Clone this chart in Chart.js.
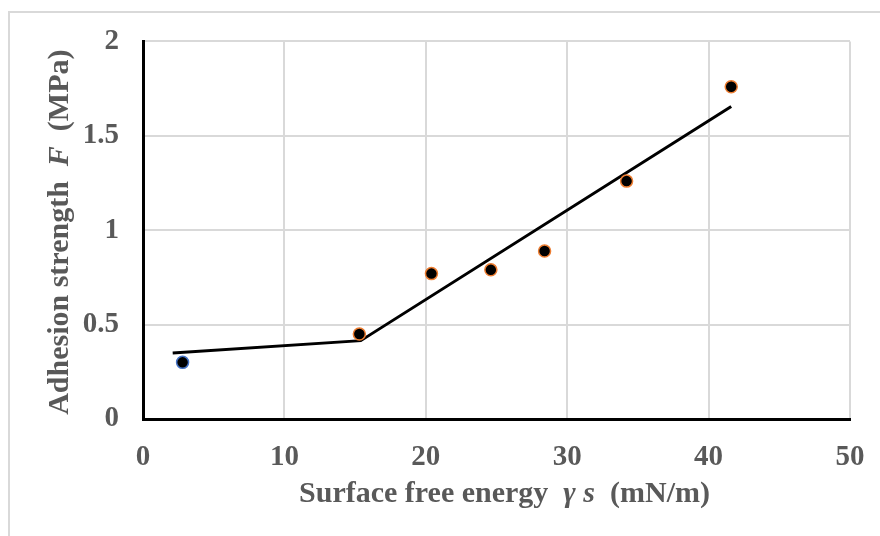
<!DOCTYPE html>
<html>
<head>
<meta charset="utf-8">
<script src="https://cdn.jsdelivr.net/npm/chart.js@4"></script>
<style>
  html, body { margin: 0; padding: 0; background: #fff; }
  #wrap { width: 880px; height: 536px; position: relative; }
</style>
</head>
<body>
<div id="wrap"><canvas id="adhesionChart"></canvas></div>
<script>
"use strict";

// measured points: surface free energy (mN/m) vs adhesion strength (MPa)
const energy = [2.8, 15.3, 20.4, 24.6, 28.4, 34.2, 41.6];
const strength = [0.30, 0.45, 0.77, 0.79, 0.89, 1.26, 1.76];

// two-segment fit line
const fitEnergy = [2.1, 15.4, 41.6];
const fitStrength = [0.35, 0.415, 1.655];

// axis ticks
const xTicks = [0, 10, 20, 30, 40, 50];
const yTicks = [0, 0.5, 1, 1.5, 2];

const textColor = '#595959';
const serif = '"Liberation Serif", "Times New Roman", serif';

// first point has a blue rim, the rest orange
const rimColors = energy.map((v, i) => i === 0 ? '#4472C4' : '#ED7D31');

// draws a title made of plain / italic runs, centred on (cx, cy)
function drawRuns(ctx, runs, cx, cy, angle) {
  ctx.save();
  ctx.translate(cx, cy);
  ctx.rotate(angle);
  ctx.fillStyle = textColor;
  ctx.textBaseline = 'middle';
  ctx.textAlign = 'left';
  let total = 0;
  runs.forEach(r => {
    ctx.font = (r.italic ? 'italic ' : '') + 'bold 30px ' + serif;
    r.w = ctx.measureText(r.text).width;
    total += r.w;
  });
  let x = -total / 2;
  runs.forEach(r => {
    ctx.font = (r.italic ? 'italic ' : '') + 'bold 30px ' + serif;
    ctx.fillText(r.text, x, 0);
    x += r.w;
  });
  ctx.restore();
}

const axisTitles = {
  id: 'axisTitles',
  beforeDraw(chart) {
    const ctx = chart.ctx;
    // outer frame
    ctx.save();
    ctx.strokeStyle = '#d9d9d9';
    ctx.lineWidth = 2;
    ctx.strokeRect(9, 12, 900, 600);
    ctx.restore();
  },
  afterDraw(chart) {
    const ctx = chart.ctx;
    const area = chart.chartArea;
    drawRuns(ctx, [
      { text: 'Surface free energy  ' },
      { text: 'γ s', italic: true },
      { text: '  (mN/m)' }
    ], (area.left + area.right) / 2 + 8, 494, 0);
    drawRuns(ctx, [
      { text: 'Adhesion strength  ' },
      { text: 'F', italic: true },
      { text: '  (MPa)' }
    ], 60, (area.top + area.bottom) / 2 + 2, -Math.PI / 2);
  }
};

const ctx = document.getElementById('adhesionChart');
new Chart(ctx, {
  type: 'scatter',
  data: {
    datasets: [{
      label: 'fit',
      type: 'line',
      data: fitEnergy.map((x, i) => ({ x: x, y: fitStrength[i] })),
      borderColor: '#000',
      borderWidth: 3,
      pointRadius: 0,
      fill: false,
      tension: 0,
      order: 2
    }, {
      label: 'measured',
      data: energy.map((x, i) => ({ x: x, y: strength[i] })),
      backgroundColor: '#000',
      borderColor: rimColors,
      pointBorderColor: rimColors,
      pointBackgroundColor: '#000',
      pointRadius: 6,
      pointBorderWidth: 1.5,
      order: 1
    }]
  },
  options: {
    responsive: true,
    maintainAspectRatio: false,
    animation: false,
    layout: {
      padding: { top: 41, right: 30, left: 0, bottom: 0 }
    },
    plugins: {
      legend: { display: false },
      tooltip: { enabled: false }
    },
    scales: {
      x: {
        type: 'linear',
        min: 0,
        max: 50,
        afterBuildTicks: (scale) => { scale.ticks = xTicks.map(v => ({ value: v })); },
        afterFit: (scale) => {
          scale.height = 117;
          scale.paddingLeft = 0;
          scale.paddingRight = 0;
        },
        ticks: {
          color: textColor,
          padding: 21,
          callback: (v) => String(v),
          font: { family: serif, size: 29, weight: 'bold' }
        },
        grid: { color: '#d9d9d9', lineWidth: 2, drawTicks: false },
        border: { color: '#000', width: 3 }
      },
      y: {
        type: 'linear',
        min: 0,
        max: 2,
        afterBuildTicks: (scale) => { scale.ticks = yTicks.map(v => ({ value: v })); },
        afterFit: (scale) => { scale.width = 143; },
        ticks: {
          color: textColor,
          padding: 24,
          callback: (v) => String(v),
          font: { family: serif, size: 29, weight: 'bold' }
        },
        grid: { color: '#d9d9d9', lineWidth: 2, drawTicks: false },
        border: { color: '#000', width: 3 }
      }
    }
  },
  plugins: [axisTitles]
});
</script>
</body>
</html>
